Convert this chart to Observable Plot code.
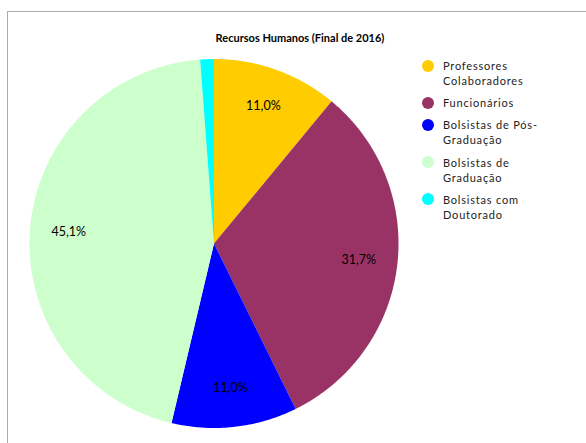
<!DOCTYPE html>
<html>
<head>
<meta charset="utf-8">
<script src="https://cdn.jsdelivr.net/npm/d3@7"></script>
<script src="https://cdn.jsdelivr.net/npm/@observablehq/plot@0.6"></script>
<style>
  html, body { margin: 0; padding: 0; background: #fff; }
  #wrap { position: relative; width: 586px; height: 443px; overflow: hidden; font-family: Lato, "Open Sans", sans-serif; }
  #frame { position: absolute; left: 7px; top: 11px; width: 700px; height: 600px; border-left: 1px solid #ababab; border-top: 1px solid #ababab; }
  #chart { position: absolute; left: 0; top: 0; }
  #title { position: absolute; left: 200px; width: 200px; top: 31px; text-align: center; font-weight: bold; font-size: 11px; color: #000; }
  #legend { position: absolute; left: 422px; top: 58px; font-size: 11px; letter-spacing: 0.8px; color: #222; }
  .item { display: flex; align-items: flex-start; margin-bottom: 7.2px; }
  .sw { width: 12px; height: 12px; border-radius: 50%; margin-top: 1.7px; margin-right: 9px; flex: none; }
  .txt { line-height: 15px; }
</style>
</head>
<body>
<div id="wrap">
  <div id="frame"></div>
  <div id="chart"></div>
  <div id="title"></div>
  <div id="legend"></div>
</div>
<script>
const title = "Recursos Humanos (Final de 2016)";
const categories = ["Professores Colaboradores", "Funcionários", "Bolsistas de Pós-Graduação", "Bolsistas de Graduação", "Bolsistas com Doutorado"];
const legendLines = [["Professores", "Colaboradores"], ["Funcionários"], ["Bolsistas de Pós-", "Graduação"], ["Bolsistas de", "Graduação"], ["Bolsistas com", "Doutorado"]];
const values = [11.0, 31.7, 11.0, 45.1, 1.2];
const colors = ["#FFCC00", "#993366", "#0000FF", "#CCFFCC", "#00FFFF"];

const pie = d3.pie().sort(null).value(d => d.value);
const arcs = pie(categories.map((c, i) => ({cat: c, value: values[i]})));

// slice outlines in unit-circle coordinates (clockwise from 12 o'clock)
const poly = [];
for (const a of arcs) {
  poly.push({cat: a.data.cat, x: 0, y: 0});
  const n = Math.max(2, Math.ceil((a.endAngle - a.startAngle) / 0.01));
  for (let k = 0; k <= n; k++) {
    const t = a.startAngle + (a.endAngle - a.startAngle) * k / n;
    poly.push({cat: a.data.cat, x: Math.sin(t), y: Math.cos(t)});
  }
  poly.push({cat: a.data.cat, x: 0, y: 0});
}
const labelR = 0.79;
const labels = arcs.filter(a => a.data.value > 2).map(a => {
  const m = (a.startAngle + a.endAngle) / 2;
  return {x: labelR * Math.sin(m), y: labelR * Math.cos(m), text: a.data.value.toFixed(1).replace(".", ",") + "%"};
});

const R = 184.5, cx = 213.5, cy = 243;
const chart = Plot.plot({
  width: 586,
  height: 443,
  marginLeft: cx - R,
  marginRight: 586 - (cx + R),
  marginTop: cy - R,
  marginBottom: 443 - (cy + R),
  x: {domain: [-1, 1], axis: null},
  y: {domain: [-1, 1], axis: null},
  color: {domain: categories, range: colors},
  style: {background: "transparent", fontFamily: "Lato, 'Open Sans', sans-serif"},
  marks: [
    Plot.line(poly, {x: "x", y: "y", z: "cat", fill: "cat", stroke: "none", curve: "linear"}),
    Plot.text(labels, {x: "x", y: "y", text: "text", fontSize: 12.5, fill: "#000"})
  ]
});
document.getElementById("chart").appendChild(chart);
document.getElementById("title").textContent = title;

const legend = document.getElementById("legend");
categories.forEach((c, i) => {
  const item = document.createElement("div");
  item.className = "item";
  const sw = document.createElement("div");
  sw.className = "sw";
  sw.style.background = colors[i];
  const txt = document.createElement("div");
  txt.className = "txt";
  txt.innerHTML = legendLines[i].join("<br>");
  item.appendChild(sw);
  item.appendChild(txt);
  legend.appendChild(item);
});
</script>
</body>
</html>
